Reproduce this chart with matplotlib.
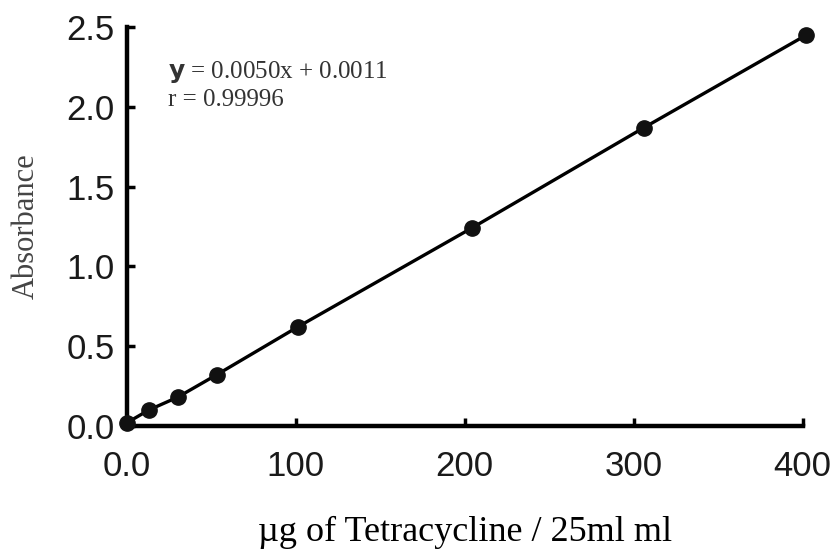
import matplotlib.pyplot as plt

# values
conc = [0, 13, 30, 53, 101, 204, 306, 402]
absorbance = [0.02, 0.10, 0.18, 0.32, 0.62, 1.24, 1.87, 2.45]
x_ticks = [0, 100, 200, 300, 400]
x_tick_labels = ['0.0', '100', '200', '300', '400']
y_ticks = [0.0, 0.5, 1.0, 1.5, 2.0, 2.5]
y_tick_labels = ['0.0', '0.5', '1.0', '1.5', '2.0', '2.5']

tick_font = ['Liberation Sans', 'DejaVu Sans']
serif = ['Liberation Serif', 'DejaVu Serif']

fig = plt.figure(figsize=(8.3, 5.56), dpi=100)
ax = fig.add_axes([0.153, 0.234, 0.814, 0.717])

ax.plot(conc, absorbance, color='black', linewidth=2.4, marker='o',
        markersize=11, markerfacecolor='#111111', markeredgecolor='#111111',
        clip_on=False, zorder=3)

ax.set_xlim(0, 400)
ax.set_ylim(0, 2.5)
ax.spines['top'].set_visible(False)
ax.spines['right'].set_visible(False)
for s in ['left', 'bottom']:
    ax.spines[s].set_linewidth(3.2)

ax.set_xticks(x_ticks)
ax.set_xticklabels(x_tick_labels, family=tick_font, fontsize=25, color='#1a1a1a')
ax.set_yticks(y_ticks)
ax.set_yticklabels(y_tick_labels, family=tick_font, fontsize=25, color='#1a1a1a')
ax.tick_params(axis='both', direction='in', length=6, width=2.5)
ax.tick_params(axis='x', pad=17)
ax.tick_params(axis='y', pad=9)

ax.set_ylabel('Absorbance', family=serif, fontsize=22, color='#444444')
ax.yaxis.set_label_coords(-0.127, 0.5)
ax.set_xlabel('\u00b5g of Tetracycline / 25ml ml', family=serif, fontsize=26,
              color='black', labelpad=24)

ax.text(0.06, 0.887, r'$\mathbf{y}$ = 0.0050x + 0.0011', transform=ax.transAxes,
        family=serif, fontsize=18, color='#333333', va='center')
ax.text(0.06, 0.817, 'r = 0.99996', transform=ax.transAxes,
        family=serif, fontsize=18, color='#333333', va='center')

fig.savefig('out.png', dpi=100)
